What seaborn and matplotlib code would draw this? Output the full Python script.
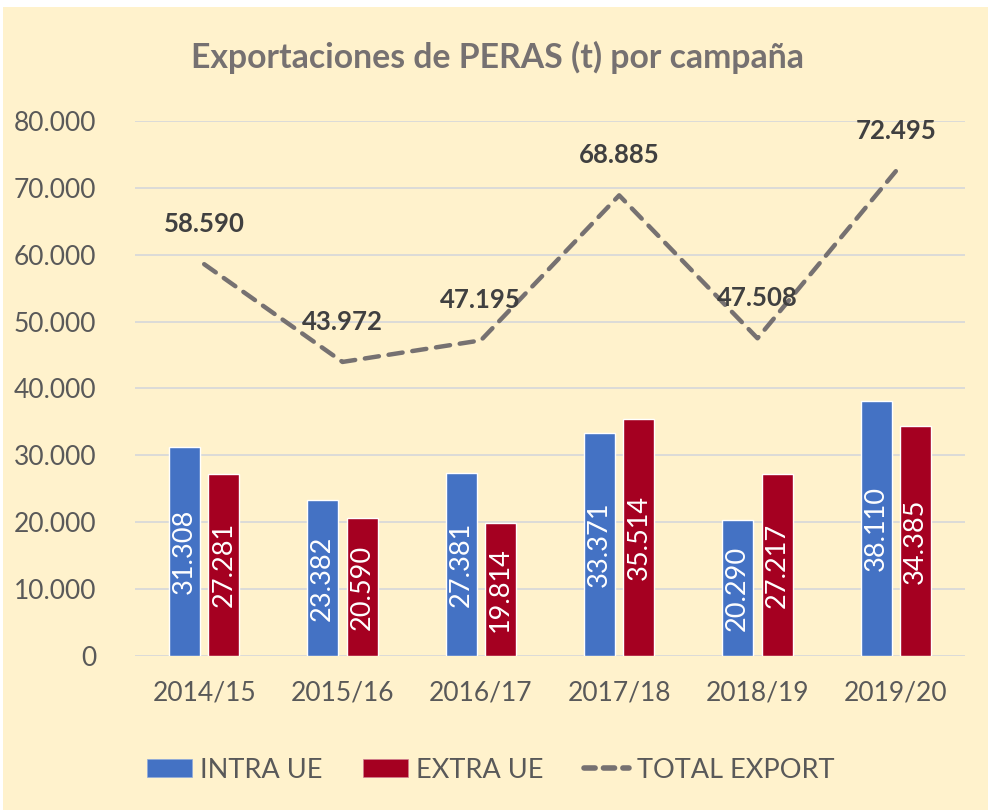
import numpy as np
import pandas as pd
import matplotlib
matplotlib.use("Agg")
import matplotlib.pyplot as plt
from matplotlib.patches import Rectangle, Patch
from matplotlib.lines import Line2D
import seaborn as sns

campaigns = ["2014/15", "2015/16", "2016/17", "2017/18", "2018/19", "2019/20"]
intra_ue = [31308, 23382, 27381, 33371, 20290, 38110]
extra_ue = [27281, 20590, 19814, 35514, 27217, 34385]
total_export = [58590, 43972, 47195, 68885, 47508, 72495]
series_names = ["INTRA UE", "EXTRA UE", "TOTAL EXPORT"]
y_ticks = [0, 10000, 20000, 30000, 40000, 50000, 60000, 70000, 80000]

BG = "#FFF2CC"
BLUE = "#4472C4"
RED = "#A50021"
LINE = "#767171"
TXT = "#595959"

sns.set_theme(style="white")
plt.rcParams["font.family"] = ["Lato", "DejaVu Sans"]

def fmt(v):
    return f"{v:,.0f}".replace(",", ".")

fig = plt.figure(figsize=(9.88, 8.1), dpi=100)
fig.patch.set_facecolor("white")
fig.patches.append(Rectangle((3 / 988, 0), 1, 1 - 7 / 810, transform=fig.transFigure,
                             facecolor=BG, edgecolor="none", zorder=-10))

W, H = 988, 810
ax = fig.add_axes([135 / W, (H - 656) / H, (965 - 135) / W, (656 - 121) / H])
ax.set_facecolor(BG)
ax.patch.set_alpha(0)

df = pd.DataFrame({
    "campaign": campaigns * 2,
    "value": intra_ue + extra_ue,
    "series": [series_names[0]] * len(campaigns) + [series_names[1]] * len(campaigns),
})

sns.barplot(data=df, x="campaign", y="value", hue="series",
            palette=[BLUE, RED], width=0.572, gap=0.217, ax=ax,
            legend=False, zorder=3, saturation=1)

for cont in ax.containers:
    ax.bar_label(cont, labels=[fmt(v) for v in cont.datavalues], label_type="center",
                 rotation=90, color="white", fontsize=19.5)

sns.lineplot(x=np.arange(len(campaigns)), y=total_export, ax=ax, color=LINE,
             linewidth=3.2, zorder=4)
ln = ax.lines[-1]
ln.set_dashes([3.2, 2.2])
ln.set_dash_capstyle("round")

for i, v in enumerate(total_export):
    ax.annotate(fmt(v), (i, v), xytext=(0, 29), textcoords="offset points",
                ha="center", va="center", fontsize=18.5, fontweight="bold",
                color="#404040", zorder=5)

ax.set_xlim(-0.5, len(campaigns) - 0.5)
ax.set_ylim(0, 80000)
ax.set_yticks(y_ticks)
ax.set_yticklabels([fmt(v) for v in y_ticks])
ax.set_xticks(range(len(campaigns)))
ax.set_xticklabels(campaigns)
ax.tick_params(axis="y", labelsize=19, colors=TXT, pad=28, length=0)
ax.tick_params(axis="x", labelsize=19, colors=TXT, pad=18, length=0)
ax.set_xlabel("")
ax.set_ylabel("")
ax.grid(axis="y", color="#D9D9D9", linewidth=1.3, zorder=0)
ax.set_axisbelow(True)
for s in ax.spines.values():
    s.set_visible(False)

fig.text(497 / W, 1 - 57 / H, "Exportaciones de PERAS (t) por campaña", ha="center",
         va="center", fontsize=24.3, fontweight="bold", color=LINE)

handles = [Patch(facecolor=BLUE, edgecolor="#8FAADC", linewidth=0.5),
           Patch(facecolor=RED, edgecolor="#D08090", linewidth=0.5),
           Line2D([0], [0], color=LINE, linewidth=4, dashes=[2.0, 1.5],
                  dash_capstyle="round")]
fig.legend(handles, series_names, loc="center", bbox_to_anchor=(0.497, 1 - 770 / H),
           ncol=3, frameon=False, fontsize=19.5, labelcolor=TXT, handlelength=1.65,
           handleheight=0.65, handletextpad=0.3, columnspacing=1.5)

fig.savefig("out.png", dpi=100, facecolor=fig.get_facecolor())
